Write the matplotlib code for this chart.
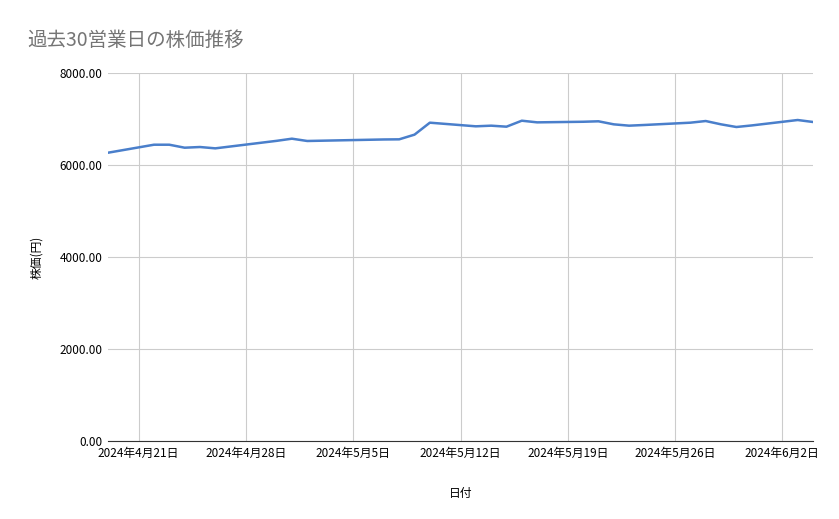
import matplotlib
matplotlib.use("Agg")
import matplotlib.pyplot as plt
import matplotlib.dates as mdates
import pandas as pd

plt.rcParams['font.family'] = ['Noto Sans CJK JP', 'DejaVu Sans']

dates = ["2024-04-19", "2024-04-22", "2024-04-23", "2024-04-24", "2024-04-25", "2024-04-26",
         "2024-04-30", "2024-05-01", "2024-05-02", "2024-05-07", "2024-05-08", "2024-05-09",
         "2024-05-10", "2024-05-13", "2024-05-14", "2024-05-15", "2024-05-16", "2024-05-17",
         "2024-05-20", "2024-05-21", "2024-05-22", "2024-05-23", "2024-05-24", "2024-05-27",
         "2024-05-28", "2024-05-29", "2024-05-30", "2024-05-31", "2024-06-03", "2024-06-04"]
prices = [6267, 6441, 6441, 6376, 6391, 6362,
          6525, 6572, 6522, 6555, 6558, 6660,
          6920, 6841, 6855, 6833, 6963, 6927,
          6940, 6950, 6884, 6855, 6870, 6920,
          6956, 6884, 6826, 6860, 6978, 6935]
tick_dates = ["2024-04-21", "2024-04-28", "2024-05-05", "2024-05-12",
              "2024-05-19", "2024-05-26", "2024-06-02"]

x = pd.to_datetime(dates)
ticks = pd.to_datetime(tick_dates)

fig = plt.figure(figsize=(8.39, 5.19), dpi=100)
ax = fig.add_axes([108 / 839, 1 - 441 / 519, 705 / 839, 368 / 519])
ax.plot(x, prices, color='#4a7fcb', lw=1.8)

ax.set_xlim(x[0], x[-1])
ax.set_ylim(0, 8000)
ax.set_yticks([0, 2000, 4000, 6000, 8000])
ax.set_yticklabels([f"{v:.2f}" for v in [0, 2000, 4000, 6000, 8000]], fontsize=8.5)
ax.set_xticks(ticks)
ax.set_xticklabels([f"{d.year}年{d.month}月{d.day}日" for d in ticks], fontsize=8.5)
ax.grid(True, color='#cccccc', lw=0.8)
ax.tick_params(length=0, pad=4)
for s in ['top', 'right', 'left']:
    ax.spines[s].set_visible(False)
ax.spines['bottom'].set_color('#333333')

ax.set_xlabel("日付", fontsize=8.5, labelpad=20)
ax.set_ylabel("株価(円)", fontsize=8.5, labelpad=12)
fig.text(27 / 839, 1 - 40 / 519, "過去30営業日の株価推移", fontsize=14,
         color='#757575', va='center')

fig.savefig("out.png", dpi=100)
